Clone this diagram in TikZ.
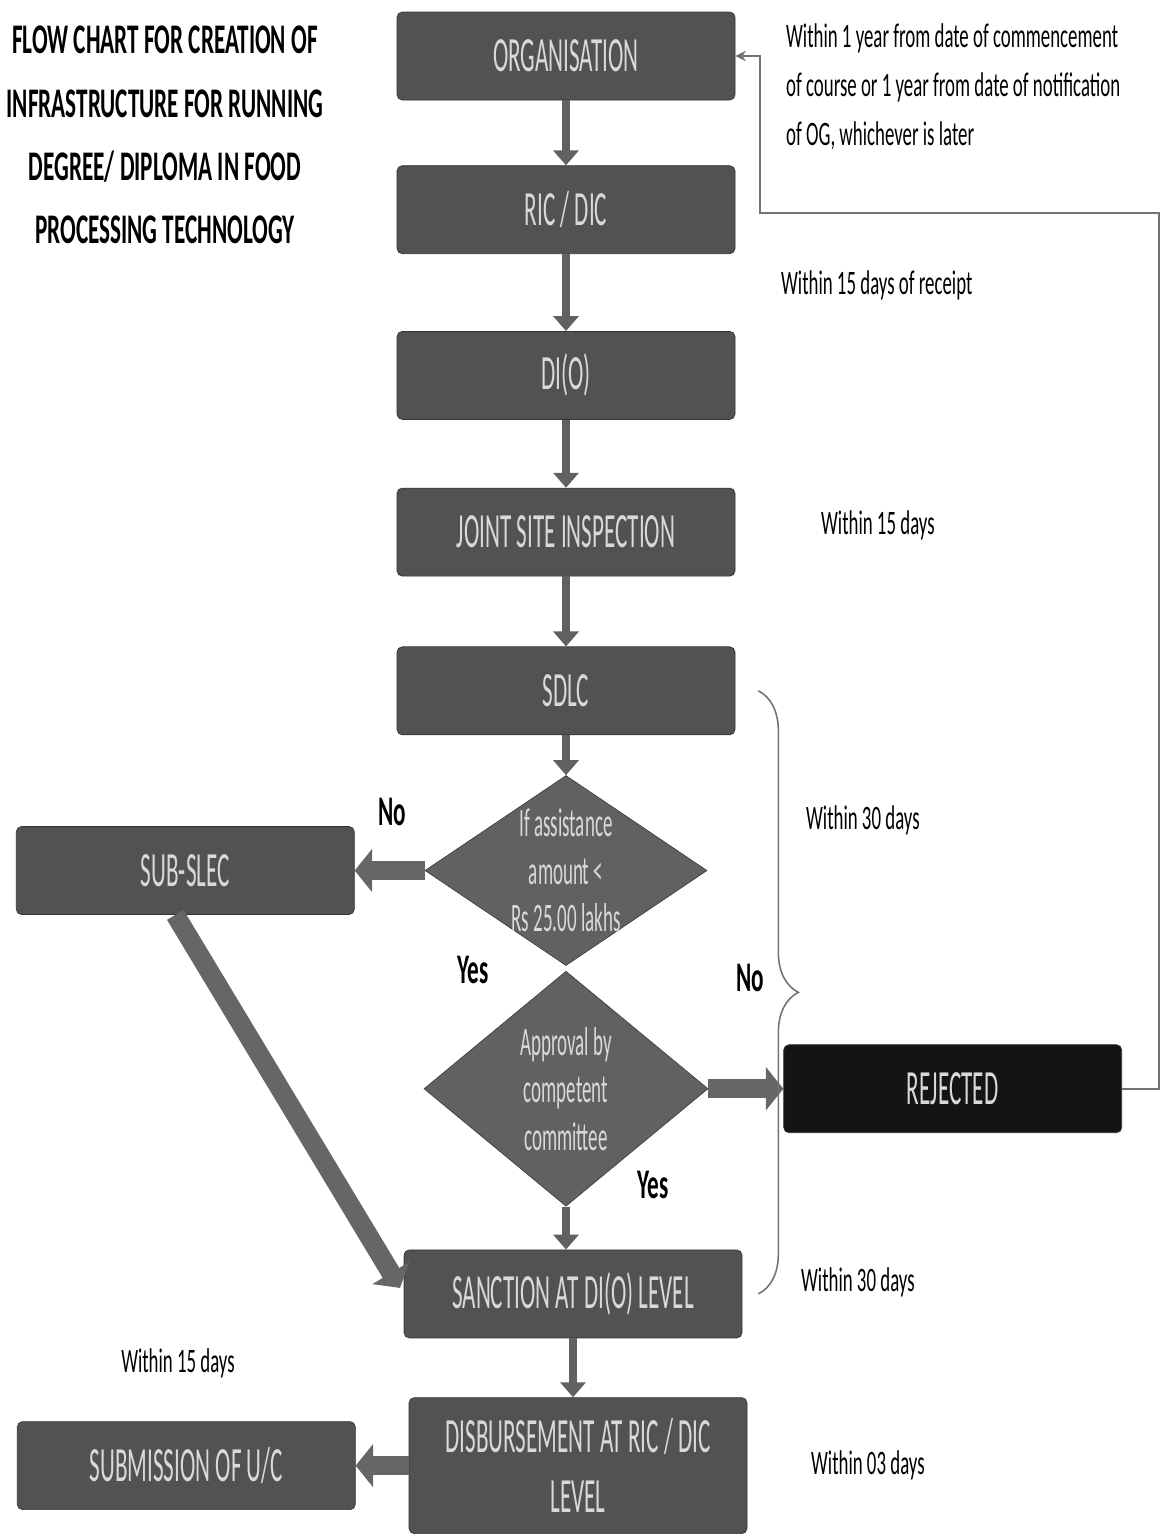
\documentclass[tikz,border=0pt]{standalone}
\usepackage{fontspec}
\setmainfont{Carlito}[FakeStretch=0.55]
\newfontfamily\boxfont{Carlito}[FakeStretch=0.47]
\usetikzlibrary{arrows.meta,positioning,shapes.geometric,decorations.pathreplacing}

\begin{document}
\begin{tikzpicture}[
        node distance=1.4cm and 1.4cm,
        box/.style={fill=black!68, draw=black!80, rounded corners=3pt, text=white!85!black, font=\boxfont\fontsize{28}{30}\selectfont, align=center, minimum width=6.76cm, minimum height=1.76cm},
        decision/.style={diamond, fill=black!62, draw=black!75, text=white!85!black, font=\boxfont\fontsize{23}{27}\selectfont, align=center, minimum width=5.64cm, minimum height=3.8cm, inner sep=-8pt},
        arrow/.style={-{Triangle[length=0.3cm,width=0.5cm]}, line width=5pt, draw=black!62},
        fatarrow/.style={-{Triangle[length=0.35cm,width=0.85cm]}, line width=11pt, draw=black!60},
        note/.style={font=\fontsize{19.5}{28}\selectfont, align=left},
        answer/.style={font=\bfseries\fontsize{24}{28}\selectfont},
        tie/.style={draw=black!55, line width=0.9pt}
    ]
        \useasboundingbox (0,0) rectangle (23.3,-30.74);

        \node[font=\bfseries\fontsize{24}{36}\selectfont, align=center] (title) at (3.3,-2.7) {FLOW CHART FOR CREATION OF\\INFRASTRUCTURE FOR RUNNING\\DEGREE/ DIPLOMA IN FOOD\\PROCESSING TECHNOLOGY};

        \node[box] (org) at (11.32,-1.12) {ORGANISATION};
        \node[box, below=1.3cm of org] (ric) {RIC / DIC};
        \node[box, below=1.54cm of ric] (dio) {DI(O)};
        \node[box, below=1.36cm of dio] (jsi) {JOINT SITE INSPECTION};
        \node[box, below=of jsi] (sdlc) {SDLC};
        \node[decision, below=0.8cm of sdlc] (amount) {If assistance\\amount <\\Rs 25.00 lakhs};
        \node[decision, below=0.1cm of amount, minimum width=5.68cm, minimum height=4.7cm] (approval) {Approval by\\competent\\committee};
        \node[box, below=0.86cm of approval, xshift=0.14cm] (sanction) {SANCTION AT DI(O) LEVEL};
        \node[box, below=1.18cm of sanction, xshift=0.1cm, minimum height=2.72cm, font=\boxfont\fontsize{28}{34}\selectfont] (disburse) {DISBURSEMENT AT RIC / DIC\\LEVEL};
        \node[box, left=1.4cm of amount] (subslec) {SUB-SLEC};
        \node[box, right=1.5cm of approval, fill=black!92] (rejected) {REJECTED};
        \node[box, left=1.06cm of disburse] (submission) {SUBMISSION OF U/C};

        % time limits
        \node[note, anchor=north west] (note1) at (15.6,-0.35) {Within 1 year from date of commencement\\of course or 1 year from date of notification\\of OG, whichever is later};
        \node[note, anchor=west] (receipt) at (15.5,-5.7) {Within 15 days of receipt};
        \node[note, anchor=west] (days15) at (16.3,-10.5) {Within 15 days};
        \node[note, anchor=west] (days30a) at (16.0,-16.4) {Within 30 days};
        \node[note, anchor=west] (days30b) at (15.9,-25.64) {Within 30 days};
        \node[note, anchor=west] (days03) at (16.1,-29.3) {Within 03 days};
        \node[note] (days15b) at (3.56,-27.26) {Within 15 days};

        \node[answer] (no1) at (7.84,-16.24) {No};
        \node[answer] (yes1) at (9.46,-19.4) {Yes};
        \node[answer] (no2) at (15.0,-19.56) {No};
        \node[answer] (yes2) at (13.06,-23.7) {Yes};

        \draw[arrow] (org) -- (ric);
        \draw[arrow] (ric) -- (dio);
        \draw[arrow] (dio) -- (jsi);
        \draw[arrow] (jsi) -- (sdlc);
        \draw[arrow] (sdlc) -- (amount);
        \draw[fatarrow] (amount) -- (subslec);
        \draw[fatarrow] (approval) -- (rejected);
        \draw[fatarrow, shorten >=4pt] ([xshift=-0.2cm]subslec.south) -- (sanction.west);
        \draw[arrow] (approval.south) -- (approval.south |- sanction.north);
        \draw[arrow] (sanction) -- (sanction.south |- disburse.north);
        \draw[fatarrow] (disburse) -- (submission);

        % back to organisation
        \draw[tie, -{Stealth[length=6pt,width=6pt]}] (rejected.east) -- ++(0.74,0) |- (15.2,-4.26) |- (org.east);

        \coordinate (bracetop) at ([xshift=0.46cm]sdlc.east);
        \coordinate (bracebot) at (bracetop |- sanction.east);
        \draw[tie, decorate, decoration={brace, amplitude=0.8cm}] (bracetop) -- (bracebot);
    \end{tikzpicture}
\end{document}
